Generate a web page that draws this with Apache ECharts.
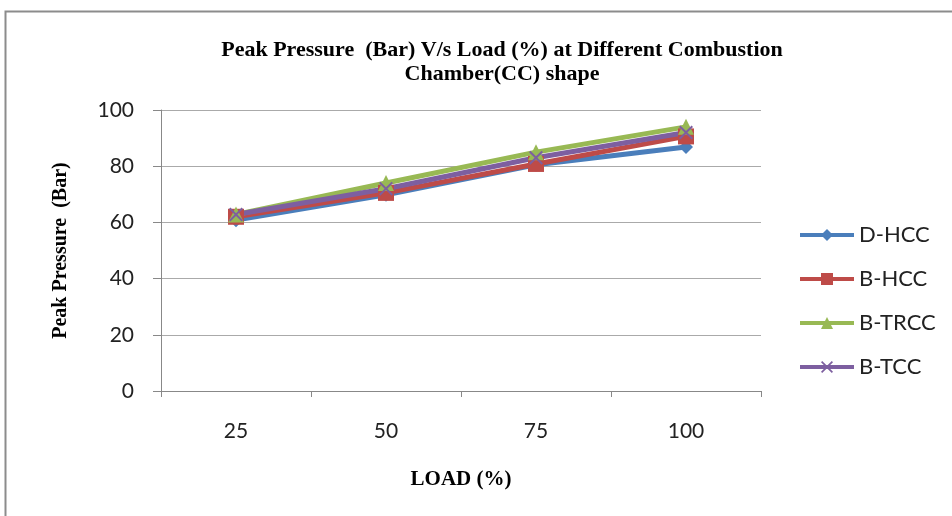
<!DOCTYPE html>
<html>
<head>
<meta charset="utf-8">
<script src="https://cdn.jsdelivr.net/npm/echarts@6/dist/echarts.min.js"></script>
<style>
  html, body { margin: 0; padding: 0; background: #fff; }
  #chart { width: 952px; height: 516px; }
</style>
</head>
<body>
<div id="chart"></div>
<script>
// load levels (%)
const loads = ["25", "50", "75", "100"];
// peak pressure (bar) per combustion chamber shape
const dHcc = [60.8, 69.8, 80.5, 86.8];
const bHcc = [62, 70.5, 80.8, 90.6];
const bTrcc = [62.8, 74, 85, 94];
const bTcc = [62.8, 72, 83, 92];
const yTicks = [0, 20, 40, 60, 80, 100];

const crossPath = "path://M0,1L1,0L5,4L9,0L10,1L6,5L10,9L9,10L5,6L1,10L0,9L4,5Z";

function lineSeries(name, data, color, symbol, size) {
  return {
    name: name,
    type: "line",
    data: data,
    symbol: symbol,
    symbolSize: size,
    lineStyle: { color: color, width: 5 },
    itemStyle: { color: color },
    emphasis: { disabled: true },
  };
}

const chart = echarts.init(document.getElementById("chart"));
chart.setOption({
  animation: false,
  backgroundColor: "#fff",
  graphic: [
    {
      type: "rect",
      left: 3,
      top: 9,
      shape: { width: 1000, height: 600 },
      style: { fill: "none", stroke: "#8c8c8c", lineWidth: 2 },
      silent: true,
    },
  ],
  title: {
    text: "Peak Pressure  (Bar) V/s Load (%) at Different Combustion\nChamber(CC) shape",
    left: 497,
    top: 33,
    textAlign: "center",
    textStyle: {
      fontFamily: "Liberation Serif",
      fontWeight: "bold",
      fontSize: 22,
      lineHeight: 24,
      color: "#000",
    },
  },
  grid: { left: 161, right: 191, top: 110, bottom: 125 },
  legend: {
    orient: "vertical",
    left: 798,
    top: 222,
    padding: 0,
    itemWidth: 54,
    itemHeight: 15,
    itemGap: 18,
    lineStyle: { width: 4 },
    textStyle: { fontFamily: "Lato", fontSize: 22, color: "#222", lineHeight: 26 },
    data: ["D-HCC", "B-HCC", "B-TRCC", "B-TCC"],
  },
  xAxis: {
    type: "category",
    data: loads,
    boundaryGap: true,
    name: "LOAD (%)",
    nameLocation: "middle",
    nameGap: 78,
    nameTextStyle: {
      fontFamily: "Liberation Serif",
      fontWeight: "bold",
      fontSize: 21,
      color: "#000",
    },
    axisLine: { lineStyle: { color: "#888", width: 1 } },
    axisTick: { show: true, length: 6, lineStyle: { color: "#888" } },
    axisLabel: { fontFamily: "Lato", fontSize: 21, color: "#222", margin: 30 },
  },
  yAxis: {
    type: "value",
    min: yTicks[0],
    max: yTicks[yTicks.length - 1],
    interval: 20,
    name: "Peak Pressure  (Bar)",
    nameLocation: "middle",
    nameGap: 90,
    nameRotate: 90,
    nameTextStyle: {
      fontFamily: "Liberation Serif",
      fontWeight: "bold",
      fontSize: 20,
      color: "#000",
    },
    axisLine: { show: true, lineStyle: { color: "#888", width: 1 } },
    axisTick: { show: true, length: 8, lineStyle: { color: "#888" } },
    axisLabel: { fontFamily: "Lato", fontSize: 21, color: "#222", margin: 27 },
    splitLine: { lineStyle: { color: "#aaa", width: 1 } },
  },
  series: [
    lineSeries("D-HCC", dHcc, "#4a7ebb", "diamond", 14),
    lineSeries("B-HCC", bHcc, "#be4b48", "rect", 16),
    lineSeries("B-TRCC", bTrcc, "#98b954", "triangle", 16),
    lineSeries("B-TCC", bTcc, "#7d5fa0", crossPath, 14),
  ],
});
</script>
</body>
</html>
